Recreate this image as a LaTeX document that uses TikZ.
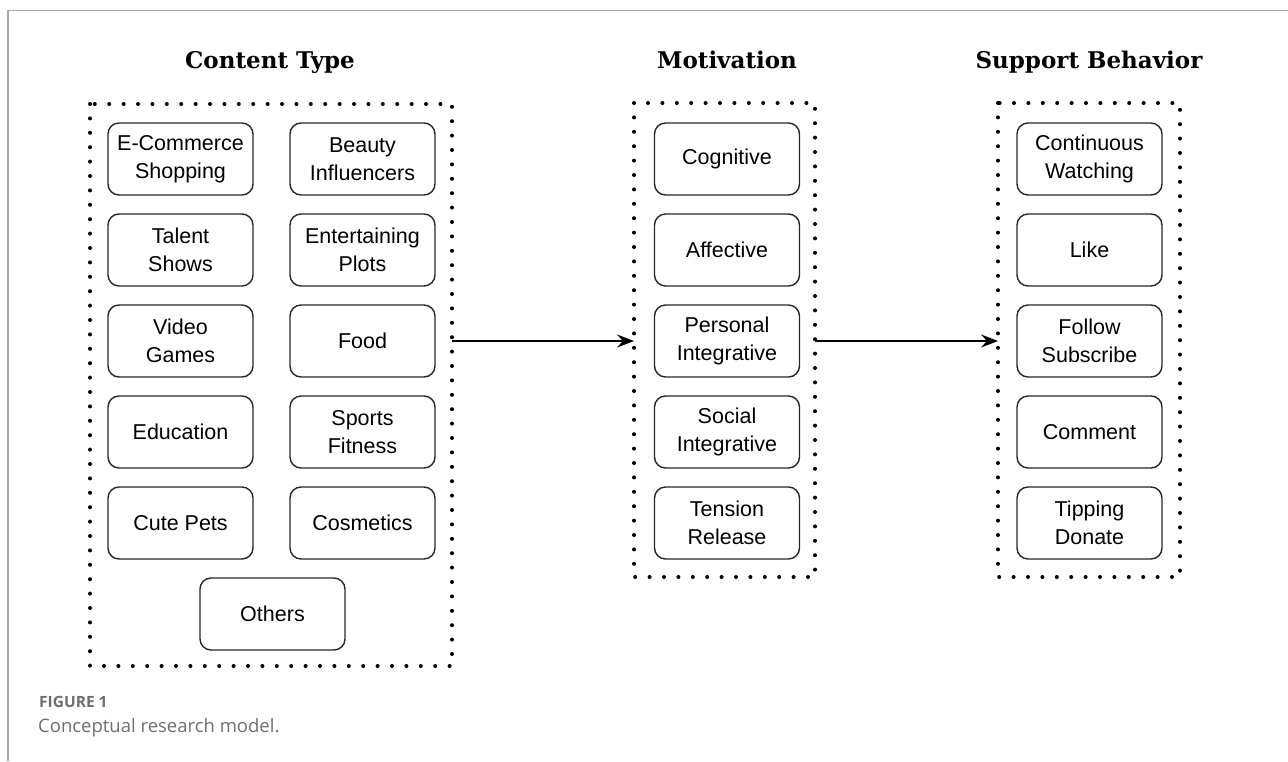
\documentclass[tikz,border=0pt]{standalone}
\usepackage{fontspec}
\setmainfont{Liberation Sans}
\newfontfamily\titlefont{DejaVu Serif}
\newfontfamily\capfont{Open Sans}
\usetikzlibrary{arrows.meta,positioning}
\definecolor{capgray}{HTML}{6E6E6E}
\definecolor{framegray}{HTML}{A8A8A8}
\begin{document}
\begin{tikzpicture}[x=1pt,y=-1pt,
  item/.style={draw=black!85,line width=1.4pt,rounded corners=11pt,minimum width=145pt,minimum height=72pt,
    align=center,font=\fontsize{21.5}{28}\selectfont,inner sep=0pt},
  group/.style={draw=black,line width=4pt,line cap=round,dash pattern=on 0pt off 14.4pt},
  ttl/.style={font=\titlefont\bfseries\fontsize{23}{27}\selectfont,inner sep=0pt,anchor=base},
  conn/.style={line width=1.4pt,-{Stealth[length=17pt,width=13pt,inset=6pt]}}]
\useasboundingbox (0,0) rectangle (1288,761);
\draw[framegray,line width=1.5pt] (8,761) -- (8,10.5) -- (1290,10.5);
% titles
\node[ttl] (t1) at (270,68) {Content Type};
\node[ttl] (t2) at (727,68) {Motivation};
\node[ttl] (t3) at (1089,68) {Support Behavior};
% groups
\draw[group] (90,104) rectangle (452,666);
\draw[group] (634,103) rectangle (815,577);
\draw[group] (998,103) rectangle (1180,577);
\coordinate (g1e) at (452,341);
\coordinate (g2w) at (634,341);
\coordinate (g2e) at (815,341);
\coordinate (g3w) at (998,341);
% content type
\node[item] (c1) at (180.5,159) {E-Commerce\\Shopping};
\node[item] (c2) at (362.5,159) {Beauty\\Influencers};
\node[item] (c3) at (180.5,250) {Talent\\Shows};
\node[item] (c4) at (362.5,250) {Entertaining\\Plots};
\node[item] (c5) at (180.5,341) {Video\\Games};
\node[item] (c6) at (362.5,341) {Food};
\node[item] (c7) at (180.5,432) {Education};
\node[item] (c8) at (362.5,432) {Sports\\Fitness};
\node[item] (c9) at (180.5,523) {Cute Pets};
\node[item] (c10) at (362.5,523) {Cosmetics};
\node[item] (c11) at (272.5,614) {Others};
% motivation
\node[item] (m1) at (727,159) {Cognitive};
\node[item] (m2) at (727,250) {Affective};
\node[item] (m3) at (727,341) {Personal\\Integrative};
\node[item] (m4) at (727,432) {Social\\Integrative};
\node[item] (m5) at (727,523) {Tension\\Release};
% support
\node[item] (s1) at (1089.5,159) {Continuous\\Watching};
\node[item] (s2) at (1089.5,250) {Like};
\node[item] (s3) at (1089.5,341) {Follow\\Subscribe};
\node[item] (s4) at (1089.5,432) {Comment};
\node[item] (s5) at (1089.5,523) {Tipping\\Donate};
% connectors
\draw[conn] (g1e) -- (g2w);
\draw[conn] (g2e) -- (g3w);
% caption
\node[anchor=west,inner sep=0pt,text=capgray,font=\capfont\bfseries\fontsize{15.5}{18}\selectfont] (cap1) at (39,702) {FIGURE 1};
\node[anchor=west,inner sep=0pt,text=capgray,font=\capfont\fontsize{18.5}{22}\selectfont] (cap2) at (38,728) {Conceptual research model.};
\end{tikzpicture}
\end{document}
